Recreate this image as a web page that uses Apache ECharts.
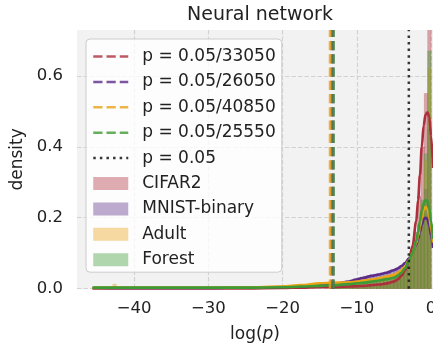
<!DOCTYPE html>
<html><head><meta charset="utf-8">
<script src="https://cdn.jsdelivr.net/npm/echarts@6/dist/echarts.min.js"></script>
<style>html,body{margin:0;padding:0;background:#fff}#c{width:433px;height:348px}</style>
</head><body><div id="c"></div>
<script>
// ---- data ----
const datasetNames = ['CIFAR2', 'MNIST-binary', 'Adult', 'Forest'];
const xTicks = [-40, -30, -20, -10, 0];
const yTicks = [0, 0.2, 0.4, 0.6];

// KDE curves (x grid and densities)
const kdeX = [-45.6, -43, -40, -35, -30, -25, -20, -17.5, -15, -13, -11, -10, -9, -8, -7, -6, -5, -4.5, -4, -3.5, -3, -2.5, -2, -1.75, -1.5, -1.25, -1, -0.75, -0.5, -0.25, 0, 0.26];
const kdeCIFAR2 = [0.001, 0.001, 0.001, 0.001, 0.001, 0.001, 0.002, 0.003, 0.004, 0.005, 0.006, 0.007, 0.008, 0.010, 0.012, 0.015, 0.020, 0.026, 0.036, 0.052, 0.078, 0.120, 0.190, 0.250, 0.320, 0.400, 0.460, 0.490, 0.497, 0.485, 0.430, 0.340];
const kdeMNIST  = [0.002, 0.002, 0.002, 0.002, 0.002, 0.003, 0.005, 0.007, 0.010, 0.014, 0.020, 0.026, 0.031, 0.036, 0.040, 0.045, 0.052, 0.057, 0.064, 0.072, 0.085, 0.100, 0.125, 0.140, 0.160, 0.180, 0.195, 0.200, 0.196, 0.180, 0.150, 0.115];
const kdeAdult  = [0.002, 0.003, 0.003, 0.003, 0.003, 0.004, 0.006, 0.010, 0.015, 0.017, 0.018, 0.020, 0.023, 0.026, 0.029, 0.034, 0.039, 0.044, 0.052, 0.063, 0.080, 0.100, 0.130, 0.150, 0.175, 0.200, 0.222, 0.230, 0.226, 0.205, 0.170, 0.130];
const kdeForest = [0.003, 0.003, 0.003, 0.003, 0.003, 0.003, 0.004, 0.006, 0.008, 0.010, 0.013, 0.015, 0.017, 0.020, 0.023, 0.027, 0.031, 0.036, 0.045, 0.058, 0.078, 0.100, 0.135, 0.160, 0.190, 0.220, 0.240, 0.250, 0.248, 0.225, 0.190, 0.140];

// histogram bins (last 30 bins up to 0)
const binStart = -13.68;
const binWidth = 0.456;
const histCIFAR2 = [0.004, 0.004, 0.005, 0.005, 0.005, 0.006, 0.006, 0.007, 0.007, 0.008, 0.009, 0.010, 0.011, 0.012, 0.013, 0.014, 0.016, 0.018, 0.020, 0.024, 0.030, 0.040, 0.055, 0.075, 0.110, 0.160, 0.260, 0.400, 0.550, 0.760];
const histMNIST  = [0.012, 0.014, 0.016, 0.018, 0.020, 0.022, 0.025, 0.028, 0.030, 0.033, 0.035, 0.037, 0.039, 0.041, 0.043, 0.045, 0.047, 0.050, 0.053, 0.056, 0.060, 0.066, 0.075, 0.085, 0.100, 0.120, 0.150, 0.200, 0.280, 0.450];
const histAdult  = [0.016, 0.016, 0.017, 0.017, 0.018, 0.018, 0.019, 0.020, 0.022, 0.024, 0.026, 0.027, 0.028, 0.029, 0.031, 0.033, 0.035, 0.037, 0.039, 0.043, 0.048, 0.056, 0.066, 0.080, 0.100, 0.130, 0.170, 0.240, 0.360, 0.620];
const histForest = [0.009, 0.010, 0.011, 0.012, 0.013, 0.014, 0.015, 0.016, 0.017, 0.018, 0.019, 0.020, 0.021, 0.022, 0.023, 0.025, 0.027, 0.029, 0.031, 0.035, 0.042, 0.050, 0.062, 0.078, 0.100, 0.130, 0.180, 0.250, 0.380, 0.670];
const adultFarBinStart = -42.87;
const adultFarBinHeight = 0.013;

// significance thresholds, log(p)
const thresholdNames = ['p = 0.05/33050', 'p = 0.05/26050', 'p = 0.05/40850', 'p = 0.05/25550', 'p = 0.05'];
const thresholdValues = [-13.406, -13.168, -13.614, -13.148, -2.996];

// ---- styles ----
const baseColors = ['#ad2f3c', '#5b2c8a', '#e8a317', '#3d9a35'];
const histAlpha = 0.4;
function rgba(hex, a) {
  const n = parseInt(hex.slice(1), 16);
  return 'rgba(' + ((n >> 16) & 255) + ',' + ((n >> 8) & 255) + ',' + (n & 255) + ',' + a + ')';
}
const FONT = 'DejaVu Sans';
const TXT = '#222';

const kdeSets = [kdeCIFAR2, kdeMNIST, kdeAdult, kdeForest];
const histSets = [histCIFAR2, histMNIST, histAdult, histForest];

const series = [];
histSets.forEach((h, i) => {
  const data = h.map((v, k) => [binStart + k * binWidth, binStart + (k + 1) * binWidth, v]);
  if (i === 2) data.push([adultFarBinStart, adultFarBinStart + binWidth, adultFarBinHeight]);
  const fill = rgba(baseColors[i], histAlpha);
  const edge = rgba(baseColors[i], 0.35);
  series.push({
    type: 'custom', name: datasetNames[i], clip: true, z: 2,
    encode: { x: [0, 1], y: 2 },
    itemStyle: { color: fill },
    renderItem: function (params, api) {
      const p0 = api.coord([api.value(0), api.value(2)]);
      const p1 = api.coord([api.value(1), 0]);
      return { type: 'rect', shape: { x: p0[0], y: p0[1], width: p1[0] - p0[0], height: p1[1] - p0[1] },
        style: { fill: fill, stroke: edge, lineWidth: 0.6 } };
    },
    data: data, silent: true
  });
});
kdeSets.forEach((k, i) => {
  series.push({
    type: 'line', name: datasetNames[i] + ' kde', z: 3,
    data: kdeX.map((x, j) => [x, k[j]]),
    smooth: 0.35, smoothMonotone: 'x', symbol: 'none', silent: true,
    lineStyle: { color: baseColors[i], width: 2.6 }
  });
});
const vColors = baseColors.concat(['#222222']);
thresholdValues.forEach((v, i) => {
  const dotted = i === 4;
  series.push({
    type: 'line', name: thresholdNames[i], z: 10 + i,
    data: [[v, 0], [v, 0.729]], symbol: 'none', silent: true,
    color: vColors[i],
    lineStyle: { color: vColors[i], width: 2.5, opacity: dotted ? 0.9 : 0.8, type: dotted ? [2.5, 4.1] : [9.25, 4] }
  });
});

const legendData = thresholdNames.map((n, i) => ({
  name: n,
  itemStyle: { opacity: 0 },
  lineStyle: { color: vColors[i], width: 2.5, opacity: i === 4 ? 0.9 : 0.8, type: i === 4 ? [2.5, 4.1] : [9.25, 4] }
})).concat(datasetNames.map((n, i) => ({
  name: n, icon: 'rect', itemStyle: { color: rgba(baseColors[i], histAlpha), borderWidth: 0 }
})));

const chart = echarts.init(document.getElementById('c'), null, { renderer: 'canvas' });
chart.setOption({
  animation: false,
  backgroundColor: '#ffffff',
  title: {
    text: 'Neural network', left: 255, top: 1, textAlign: 'center',
    textStyle: { fontFamily: FONT, fontSize: 19, fontWeight: 'normal', color: TXT }
  },
  grid: { left: 77, right: 0, top: 30, bottom: 59.3, show: true, backgroundColor: '#f2f2f2', borderWidth: 0,
    containLabel: false, outerBoundsMode: 'none' },
  legend: {
    orient: 'vertical', left: 86, top: 39, padding: [9, 6, 4, 6],
    itemWidth: 35, itemHeight: 13, itemGap: 8.4,
    backgroundColor: 'rgba(255,255,255,0.8)', borderColor: '#cccccc', borderWidth: 1, borderRadius: 4,
    selectedMode: false,
    textStyle: { fontFamily: FONT, fontSize: 17, lineHeight: 17, color: TXT, padding: [0, 0, 0, 9] },
    data: legendData
  },
  xAxis: {
    type: 'value', min: -47.7, max: 0.26,
    name: '{a|log(}{b|p}{a|)}', nameLocation: 'middle', nameGap: 37,
    nameTextStyle: { rich: {
      a: { fontFamily: FONT, fontSize: 17, color: TXT },
      b: { fontFamily: FONT, fontSize: 17, color: TXT, fontStyle: 'italic' } } },
    axisLine: { show: false },
    axisTick: { show: false, customValues: xTicks },
    axisLabel: { customValues: xTicks, fontFamily: FONT, fontSize: 16.5, color: TXT, margin: 12,
      formatter: v => (v < 0 ? '\u2212' + Math.abs(v) : String(v)) },
    splitLine: { show: true, lineStyle: { color: '#d2d2d2', width: 1.2, type: [4.5, 2] } }
  },
  yAxis: {
    type: 'value', min: 0, max: 0.729,
    name: 'density', nameLocation: 'middle', nameGap: 45.5,
    nameTextStyle: { fontFamily: FONT, fontSize: 17, color: TXT },
    axisLine: { show: false },
    axisTick: { show: false, customValues: yTicks },
    axisLabel: { customValues: yTicks, fontFamily: FONT, fontSize: 16.5, color: TXT, margin: 14,
      formatter: v => v.toFixed(1) },
    splitLine: { show: true, lineStyle: { color: '#d2d2d2', width: 1.2, type: [4.5, 2] } }
  },
  series: series
});
</script></body></html>
